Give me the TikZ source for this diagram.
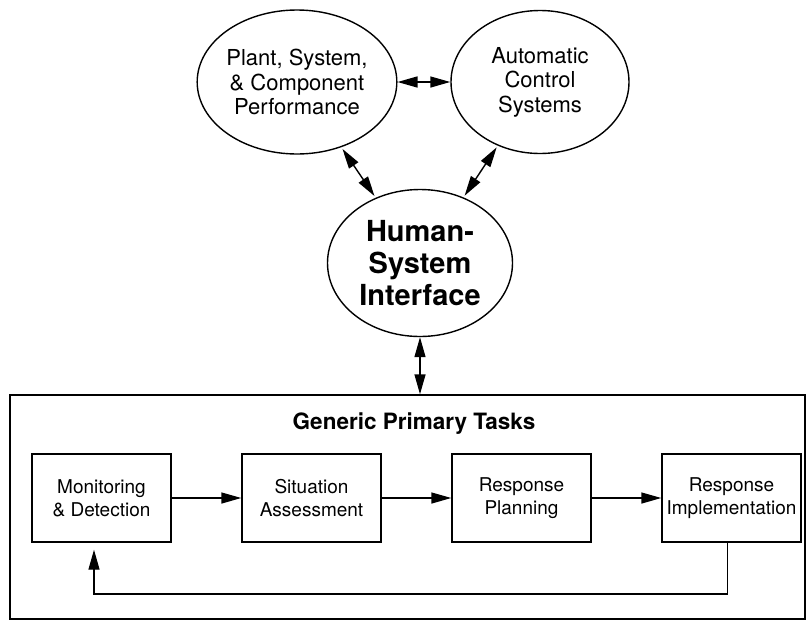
\documentclass[tikz,border=0pt]{standalone}
\usepackage{fontspec}
\setmainfont{TeX Gyre Heros}
\usetikzlibrary{shapes.geometric,positioning,arrows.meta}

\begin{document}
\begin{tikzpicture}[x=1pt,y=-1pt,line width=1.4pt,
    >={Triangle[length=20pt,width=11pt]},
    topic/.style={ellipse,draw,align=center,inner sep=0pt,
      font=\fontsize{22}{24.5}\selectfont},
    task/.style={rectangle,draw,align=center,inner sep=0pt,
      minimum width=139pt,minimum height=88pt,
      font=\fontsize{19}{23}\selectfont}]
\useasboundingbox (0,0) rectangle (807,622);
%% Interface and the two sources around it
\node [topic,minimum width=186pt,minimum height=144pt] (plant) at (297,82)
      {Plant, System,\\ \& Component\\ Performance};
\node [topic,minimum width=178pt,minimum height=143pt] (auto) at (540,82)
      {Automatic\\ Control\\ Systems};
\node [topic,minimum width=185pt,minimum height=147pt,
       font=\bfseries\fontsize{29}{32}\selectfont] (hsi) at (420,263)
      {Human-\\ System\\ Interface};
\draw [<->] (plant) -- (auto);
\draw [<->,shorten <=2pt,shorten >=2pt] (plant) -- (hsi);
\draw [<->,shorten <=2pt,shorten >=2pt] (auto) -- (hsi);

%% Task frame
\node [draw,minimum width=795pt,minimum height=224pt] (frame) at (407.5,507) {};
\node [font=\bfseries\fontsize{22.5}{26}\selectfont] (title) at (414,424)
      {Generic Primary Tasks};
\draw [<->] (hsi.south) -- (hsi.south |- frame.north);

\begin{scope}[node distance=210pt,on grid]
\node [task] (mon)  at (101.5,498)  {Monitoring\\ \& Detection};
\node [task] (sit)  [right=of mon]  {Situation\\ Assessment};
\node [task] (plan) [right=of sit]  {Response\\ Planning};
\node [task] (impl) [right=of plan] {Response\\ Implementation};
\end{scope}
\draw [->] (mon) -- (sit);
\draw [->] (sit) -- (plan);
\draw [->] (plan) -- (impl);
\coordinate (fb) at (94,594);
\draw [->,shorten >=7pt] ([xshift=-4pt]impl.south) |- (fb) -- (fb |- mon.south);
\end{tikzpicture}
\end{document}
